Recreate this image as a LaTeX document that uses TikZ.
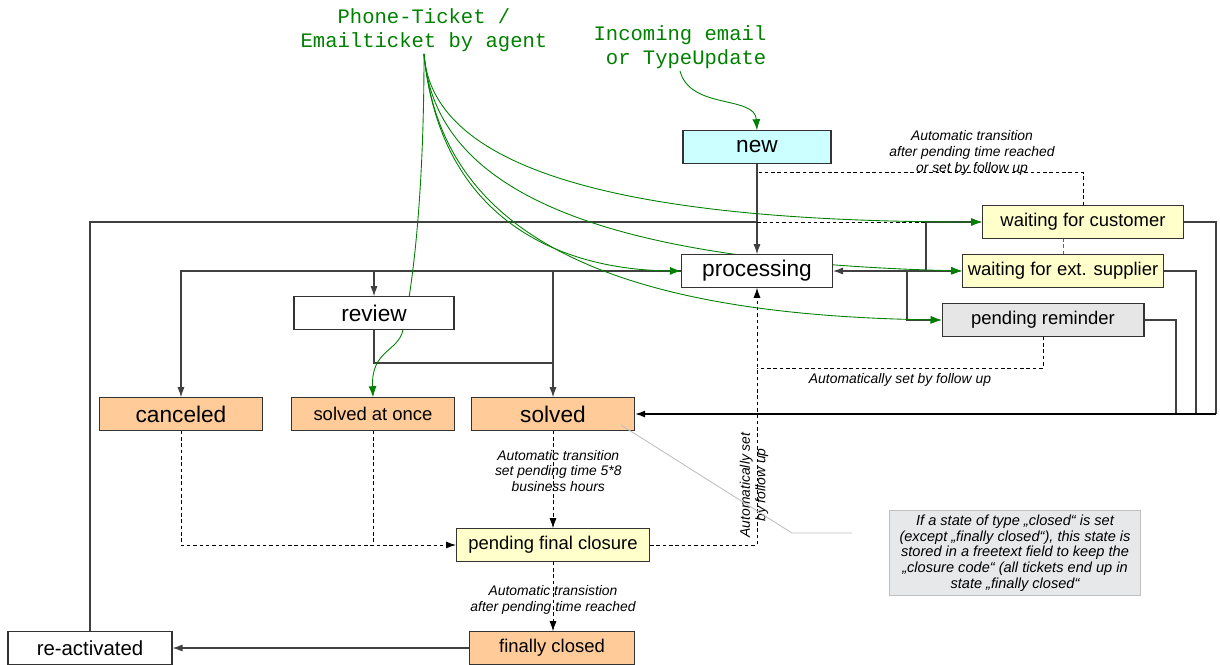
\documentclass[tikz,border=0pt]{standalone}
\usepackage{fontspec}
\setmainfont{Liberation Sans}
\newfontfamily\agentfont{Liberation Mono}
\usetikzlibrary{arrows.meta, backgrounds}

\definecolor{newblue}{HTML}{CCFFFF}
\definecolor{closedorange}{HTML}{FFCC99}
\definecolor{pendyellow}{HTML}{FFFFCC}
\definecolor{remindgray}{HTML}{E6E6E6}
\definecolor{notegray}{HTML}{E6E8EA}
\definecolor{linegray}{HTML}{404040}
\definecolor{agentgreen}{HTML}{008000}

\begin{document}
\begin{tikzpicture}[x=0.02cm, y=-0.02cm,
    state/.style = {draw=black!80, line width=0.6pt, minimum height=0.65cm, inner sep=0pt, font=\fontsize{12.9}{15}\selectfont},
    smallstate/.style = {state, font=\fontsize{10.5}{12}\selectfont},
    srclabel/.style = {text=agentgreen, font=\agentfont\fontsize{11.7}{13.9}\selectfont, inner sep=1pt},
    annot/.style = {font=\itshape\fontsize{7.9}{8.9}\selectfont, align=center, inner sep=0pt},
    conn/.style = {draw=linegray, line width=0.6pt, -{Latex[length=2mm,width=1.4mm]}},
    plain/.style = {draw=linegray, line width=0.6pt},
    auto/.style = {draw=black, line width=0.5pt, dash pattern=on 2pt off 1.6pt, -{Latex[length=2mm,width=1.4mm]}},
    autoline/.style = {draw=black, line width=0.5pt, dash pattern=on 2pt off 1.6pt},
    green/.style = {draw=agentgreen, line width=0.5pt, -{Latex[length=2.2mm,width=1.6mm]}}
]
\useasboundingbox (0,0) rectangle (1220,664);

% where tickets come from
\node[srclabel, align=center] (agent) at (424,30) {Phone-Ticket /\\Emailticket by agent};
\node[srclabel, align=right] (incoming) at (680,47) {Incoming email\\or TypeUpdate};

% states
\node[state, fill=newblue, minimum width=2.96cm] (new) at (757,147) {new};
\node[state, fill=white, minimum width=3.02cm] (proc) at (757,271) {processing};
\node[state, fill=white, minimum width=3.2cm] (review) at (374,313) {review};
\node[smallstate, fill=pendyellow, minimum width=4.02cm] (wfc) at (1083,222) {waiting for customer};
\node[smallstate, fill=pendyellow, minimum width=4.02cm] (wfes) at (1063,271) {waiting for ext. supplier};
\node[smallstate, fill=remindgray, minimum width=4.04cm] (remind) at (1043,320) {pending reminder};
\node[state, fill=closedorange, minimum width=3.26cm] (canceled) at (181,414) {canceled};
\node[smallstate, fill=closedorange, minimum width=3.26cm] (atonce) at (373,414) {solved at once};
\node[state, fill=closedorange, minimum width=3.26cm] (solved) at (553,414) {solved};
\node[smallstate, fill=pendyellow, minimum width=3.86cm] (pfc) at (553,545) {pending final closure};
\node[smallstate, fill=closedorange, minimum width=3.3cm] (fclosed) at (552,648) {finally closed};
\node[state, fill=white, minimum width=3.28cm, font=\fontsize{11.6}{14}\selectfont] (react) at (90,648) {re-activated};

% note
\node[draw=black!25, fill=notegray, minimum width=5.02cm, minimum height=1.7cm, inner sep=0pt,
      font=\itshape\fontsize{8.3}{8.9}\selectfont, align=center] (note) at (1015,553)
  {If a state of type „closed“ is set\\(except „finally closed“), this state is\\stored in a freetext field to keep the\\„closure code“ (all tickets end up in\\state „finally closed“};

% junctions
\coordinate (reproc) at (757,222);
\coordinate (jwc) at (926,271);
\coordinate (jpr) at (907,271);
\coordinate (rvjoin) at (553,363);
\coordinate (rwc) at (1216,414);
\coordinate (rwes) at (1196,414);
\coordinate (rpr) at (1176,414);
\coordinate (prjoin) at (757,368);
\coordinate (wcjoin) at (757,172);
\coordinate (notea) at (621,425);
\coordinate (noteb) at (792,533);
\coordinate (notec) at (852,533);

\begin{pgfonlayer}{background}
% solid transitions
\draw[conn] (new) -- (proc);
\draw[conn] (proc.west) -| (canceled.north);
\draw[conn] (proc.west) -| (review.north);
\draw[conn] (proc.west) -| (solved.north);
\draw[plain] (review.south) |- (rvjoin);
\draw[conn, {Latex[length=2mm,width=1.4mm]}-{Latex[length=2mm,width=1.4mm]}] (proc.east) -- (wfes.west);
\draw[conn] (jwc) |- (wfc.west);
\draw[conn] (jpr) |- (remind.west);
\draw[plain] (wfc.east) -| (rwc);
\draw[plain] (wfes.east) -| (rwes);
\draw[plain] (remind.east) -| (rpr);
\draw[conn, draw=black, line width=0.9pt] (rwc) -- (solved.east);
\draw[plain] (react.north) |- (reproc);
\draw[autoline] (reproc) -- (jwc |- wfc.west);
\draw[conn] (fclosed.west) -- (react.east);

% automatic transitions
\draw[auto] (canceled.south) |- (pfc.west);
\draw[autoline] (atonce.south) -- (atonce.south |- pfc.west);
\draw[auto] (solved.south) -- (pfc.north)
  node[annot, pos=0.41, xshift=3pt] {Automatic transition\\set pending time 5*8\\business hours};
\draw[auto] (pfc.east) -| (proc.south);
\draw[autoline] (remind.south) |- (prjoin)
  node[annot, pos=0.75, below=3pt] {Automatically set by follow up};
\draw[autoline] (wfc.north) |- (wcjoin);
\draw[autoline, draw=black!60] (wfes.north) -- (wfes.north |- wfc.south);
\draw[auto] (pfc.south) -- (pfc.south |- fclosed.north)
  node[annot, pos=0.55] {Automatic transistion\\after pending time reached};

% tickets entered by hand
\draw[green] (agent.south) .. controls (432,175) and (640,222) .. (wfc.west);
\draw[green] (agent.south) .. controls (435,200) and (620,262) .. (wfes.west);
\draw[green] (agent.south) .. controls (440,220) and (560,270) .. (proc.west);
\draw[green] (agent.south) .. controls (440,230) and (600,315) .. (remind.west);
\draw[green] (agent.south) .. controls (424,200) and (412,290) .. (403,330)
  .. controls (398,352) and (371,350) .. (atonce.north);
\draw[green] (incoming.south) .. controls (690,110) and (755,95) .. (new.north);
\end{pgfonlayer}

% labels of the automatic transitions
\node[annot] (lblwait) at (972,153) {Automatic transition\\after pending time reached\\or set by follow up};
\node[annot, rotate=90] (lblfollow) at (754,485) {Automatically set\\by follow up};

% link to the note
\draw[black!25, line width=0.5pt] (notea) -- (noteb) -- (notec);

\end{tikzpicture}
\end{document}
